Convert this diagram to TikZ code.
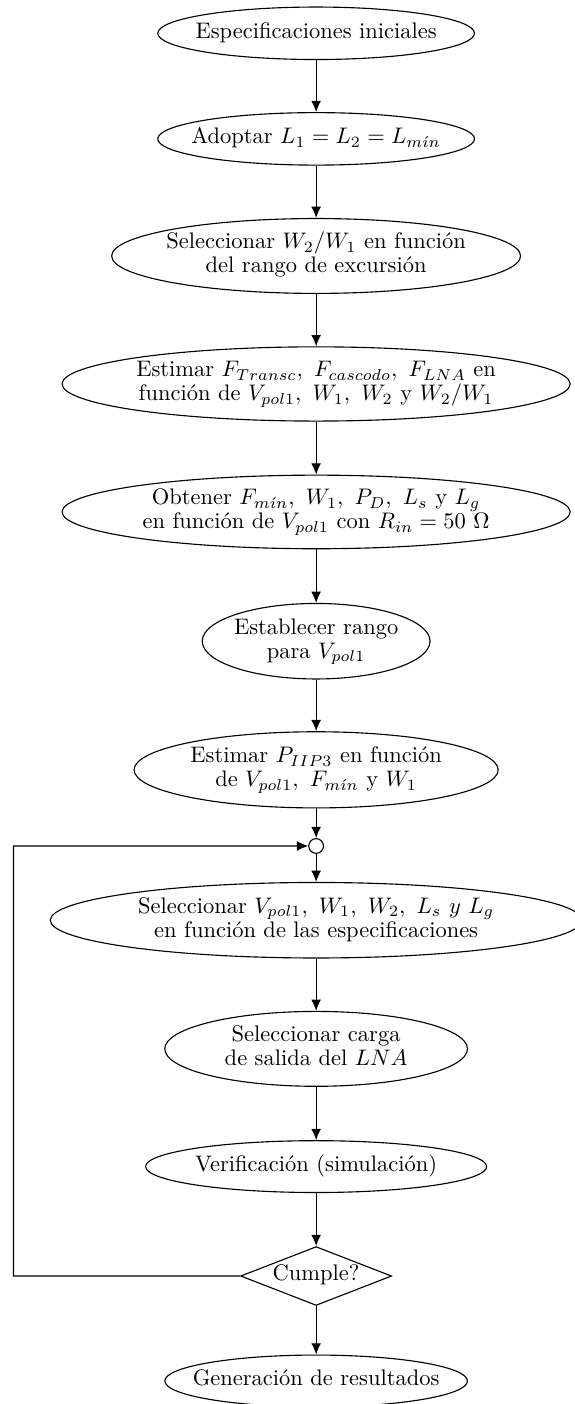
\documentclass[tikz,border=0pt]{standalone}
\usetikzlibrary{shapes.geometric,arrows.meta}

\newcommand{\ftxt}[1]{\makebox[0pt]{\renewcommand{\arraystretch}{0.89}\begin{tabular}{@{}c@{}}#1\end{tabular}}}

\begin{document}
\begin{tikzpicture}[>={Latex[length=5pt,width=4.4pt]},line width=0.5pt,auto,node distance=2cm,
	proc/.style={ellipse,draw,inner sep=0pt},
	cond/.style={diamond,draw,inner sep=0pt},
	joint/.style={circle,draw,inner sep=0pt,minimum size=0.23cm}]

\useasboundingbox (0,0) rectangle (8.97,-21.94);

\node[proc,minimum width=4.95cm,minimum height=0.82cm]   (espec) at (4.94,-0.52)   {\ftxt{Especificaciones iniciales}};
 \node[proc,minimum width=4.95cm,minimum height=0.82cm] 	  (adopt) [below of=espec,node distance=1.65cm]  	{\ftxt{Adoptar $L_1 = L_2 = L_{m\acute{\imath}n}$}};
	\node[proc,minimum width=6.39cm,minimum height=1.17cm]   (selw) [below of=adopt,node distance=1.83cm]   {\ftxt{Seleccionar $W_2/W_1$ en función\\del rango de excursión}};
	\node[proc,minimum width=7.94cm,minimum height=1.16cm] 	  (estf) [below of=selw]  	{\ftxt{Estimar $F_{Transc},\ F_{cascodo},\ F_{LNA}$ en\\función de $V_{pol1},\ W_1,\ W_2$ y $W_2/W_1$}};
	\node[proc,minimum width=7.94cm,minimum height=1.15cm] 	  (obt) [below of=estf]  	{\ftxt{Obtener $F_{m\acute{\imath}n},\ W_1,\ P_D,\ L_s$ y $L_g$\\en función de $V_{pol1}$ con $R_{in} = 50\ \Omega$}};
	\node[proc,minimum width=3.56cm,minimum height=1.18cm] 	  (rango) [below of=obt,node distance=2.02cm]  	{\ftxt{Establecer rango\\para $V_{pol1}$}};
	\node[proc,minimum width=5.69cm,minimum height=1.19cm] 	  (estp) [below of=rango,node distance=2.01cm]  	{\ftxt{Estimar $P_{IIP3}$ en función\\de $V_{pol1},\ F_{m\acute{\imath}n}$ y $W_1$}};
	\node[joint] 	  (junta) [below of=estp,node distance=1.19cm]  	{};
	\node[proc,minimum width=8.31cm,minimum height=1.18cm] 	  (selv) [below of=junta,node distance=1.16cm]  	{\ftxt{Seleccionar $V_{pol1},\ W_1,\ W_2,\ L_s\ y\ L_g$\\en función de las especificaciones}};
	\node[proc,minimum width=4.73cm,minimum height=1.17cm] 	  (carga) [below of=selv,node distance=2.01cm]  	{\ftxt{Seleccionar carga\\de salida del $LNA$}};
	\node[proc,minimum width=5.33cm,minimum height=0.81cm] 	  (verif) [below of=carga,node distance=1.84cm]  	{\ftxt{Verificación (simulación)}};
	\node[cond,minimum width=2.36cm,minimum height=0.92cm] 	  (cumple) [below of=verif,node distance=1.71cm]  	{\ftxt{Cumple?}};
	\node[proc,minimum width=4.73cm,minimum height=0.81cm] 	  (gen) [below of=cumple,node distance=1.64cm]  	{\ftxt{Generación de resultados}};

	\coordinate (vuelta) at (0.21,-19.94);

	\path[->] (espec)  edge (adopt)
		(adopt) edge (selw)
		(selw) edge (estf)
		(estf) edge (obt)
		(obt) edge (rango)
		(rango) edge (estp)
		(estp) edge (junta)
		(junta) edge (selv)
		(selv) edge (carga)
		(carga) edge (verif)
		(verif) edge (cumple)
		(cumple) edge (gen);

	% lazo de vuelta
	\draw[->] (cumple.west) -- (vuelta) |- (junta.west);

\end{tikzpicture}
\end{document}
